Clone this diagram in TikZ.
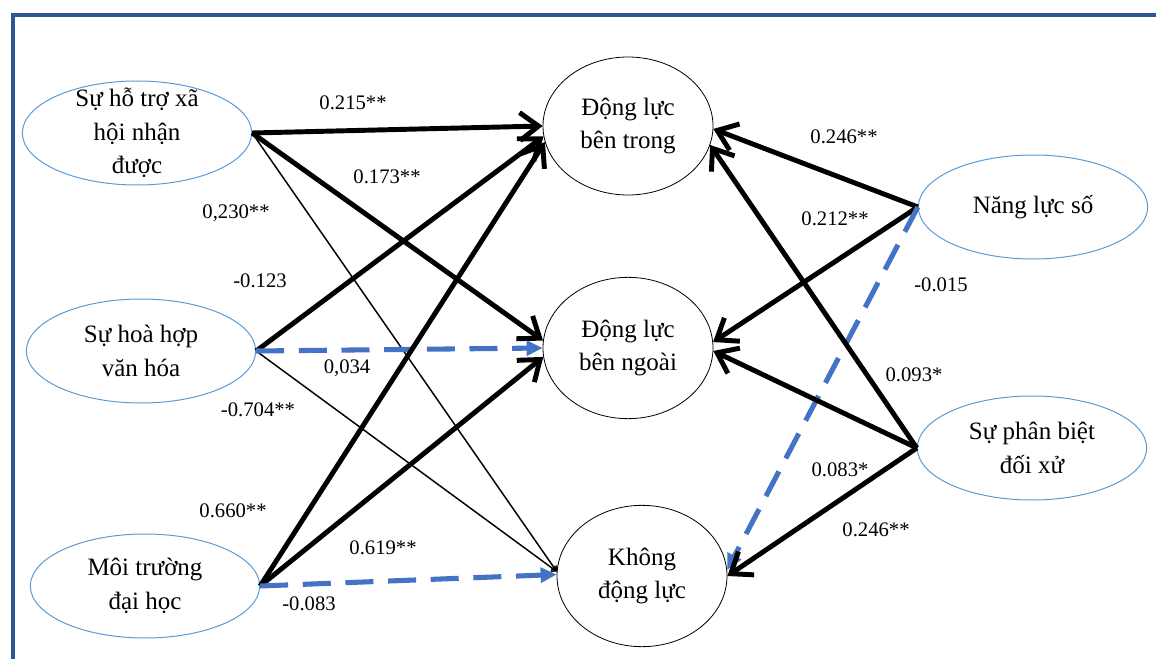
\documentclass[tikz,border=0pt]{standalone}
\usepackage{fontspec}
\setmainfont{Liberation Serif}
\usetikzlibrary{shapes.geometric,arrows.meta}
\definecolor{frameblue}{HTML}{2F5597}
\definecolor{ellblue}{HTML}{5B9BD5}
\definecolor{dashblue}{HTML}{4472C4}
\begin{document}
\begin{tikzpicture}[x=0.75pt,y=-0.75pt,
  inell/.style={ellipse, draw=ellblue, line width=0.75pt, inner sep=0pt, minimum width=172pt, minimum height=78pt},
  outell/.style={ellipse, draw=black, line width=0.6pt, inner sep=0pt, minimum width=127.5pt, minimum height=106pt},
  ntext/.style={font=\fontsize{18.75}{25}\selectfont, align=center, inner sep=0pt},
  coef/.style={font=\fontsize{15.5}{18}\selectfont, inner sep=0pt},
  strong/.style={line width=3.7pt, -{Straight Barb[length=14pt,width=21pt]}},
  weak/.style={line width=1.1pt, -{Straight Barb[length=3pt,width=5pt]}},
  insig/.style={draw=dashblue, line width=3.8pt, dash pattern=on 21pt off 11pt, -{Triangle[length=12pt,width=11pt,fill=dashblue]}},
  framestyle/.style={draw=frameblue, line width=2.4pt}]
\useasboundingbox (0,0) rectangle (1156,659);
% frame
\coordinate (fb) at (13,661);
\coordinate (fc) at (13,15);
\coordinate (fr) at (1160,15);
\draw[framestyle] (fb) -- (fc) -- (fr);
% nodes
\node[inell, label={[ntext]center:{Sự hỗ trợ xã\\hội nhận\\được}}] (N1) at (137,133) {};
\node[inell, label={[ntext]center:{Sự hoà hợp\\văn hóa}}] (N2) at (141,351) {};
\node[inell, label={[ntext]center:{Môi trường\\đại học}}] (N3) at (145,586) {};
\node[outell, minimum height=103.5pt, label={[ntext]center:{Động lực\\bên trong}}] (M1) at (628,126) {};
\node[outell, label={[ntext]center:{Động lực\\bên ngoài}}] (M2) at (628,348) {};
\node[outell, label={[ntext]center:{Không\\động lực}}] (M3) at (642,576) {};
\node[inell, label={[ntext]center:{Năng lực số}}] (R1) at (1033,207) {};
\node[inell, label={[ntext]center:{Sự phân biệt\\đối xử}}] (R2) at (1032,448) {};
% connectors
\draw[weak] (N1.east) -- (M3.177);
\draw[weak] (N2.east) -- (M3.177);
\draw[strong] (N1.east) -- (M1.180);
\draw[strong] (N1.east) -- (M2.175);
\draw[strong] (N2.east) -- (M1.187);
\draw[insig] (N2.east) -- (M2.180);
\draw[strong] (N3.east) -- (M1.191);
\draw[strong] (N3.east) -- (M2.186);
\draw[insig] (N3.east) -- (M3.179);
\draw[strong] (R1.west) -- (M1.358);
\draw[strong] (R1.west) -- (M2.4);
\draw[insig] (R1.west) -- (M3.4);
\draw[strong] (R2.west) -- (M1.347);
\draw[strong] (R2.west) -- (M2.358);
\draw[strong] (R2.west) -- (M3.0);
% coefficients
\node[coef] (c1) at (353,103) {0.215**};
\node[coef] (c2) at (387,177) {0.173**};
\node[coef] (c3) at (236,213) {0,230**};
\node[coef] (c4) at (260,281) {-0.123};
\node[coef] (c5) at (347,368) {0,034};
\node[coef] (c6) at (258,410) {-0.704**};
\node[coef] (c7) at (233,511) {0.660**};
\node[coef] (c8) at (383,548) {0.619**};
\node[coef] (c9) at (309,604) {-0.083};
\node[coef] (c10) at (844,137) {0.246**};
\node[coef] (c11) at (835,219) {0.212**};
\node[coef] (c12) at (941,285) {-0.015};
\node[coef] (c13) at (914,375) {0.093*};
\node[coef] (c14) at (840,470) {0.083*};
\node[coef] (c15) at (876,530) {0.246**};
\end{tikzpicture}
\end{document}
